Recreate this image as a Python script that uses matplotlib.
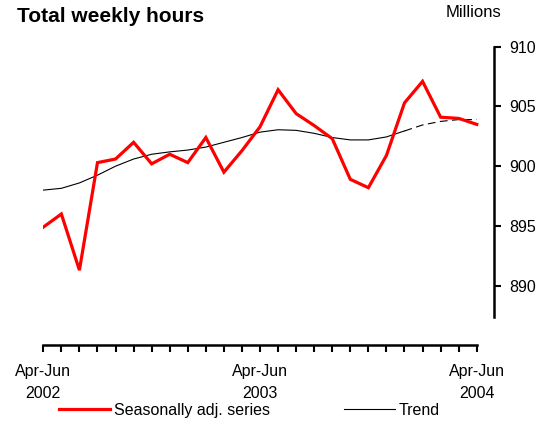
import matplotlib
matplotlib.use("Agg")
import matplotlib.pyplot as plt
from matplotlib.lines import Line2D

plt.rcParams['font.family'] = ['Liberation Sans', 'DejaVu Sans']

periods = list(range(25))
tick_labels = {0: "Apr-Jun\n2002", 12: "Apr-Jun\n2003", 24: "Apr-Jun\n2004"}
seasonal = [894.9, 896.0, 891.3, 900.3, 900.6, 902.0, 900.2, 901.0, 900.3, 902.4,
            899.5, 901.3, 903.3, 906.4, 904.4, 903.4, 902.3, 898.9, 898.2, 900.9,
            905.3, 907.1, 904.1, 904.0, 903.5]
trend = [898.0, 898.15, 898.6, 899.25, 900.0, 900.6, 901.0, 901.2, 901.35, 901.6,
         902.0, 902.4, 902.85, 903.05, 903.0, 902.75, 902.4, 902.2, 902.2, 902.45,
         902.95, 903.45, 903.75, 903.9, 903.9]
dash_start = 20

W, H = 548, 423
fig = plt.figure(figsize=(W / 100, H / 100), dpi=100)
x_left, x_right = 43.3, 494.3
y_top, y_bot = 46.7, 345
ax = fig.add_axes([x_left / W, (H - y_bot) / H, (x_right - x_left) / W, (y_bot - y_top) / H])

px_per_idx = 18.06
ax.set_xlim(0, (x_right - x_left) / px_per_idx)
ax.set_ylim(910 - (y_bot - y_top) / 11.95, 910)

ax.plot(periods, seasonal, color='#ff0000', lw=2.3, solid_joinstyle='miter', zorder=3)
ax.plot(periods[:dash_start + 1], trend[:dash_start + 1], color='black', lw=0.8, zorder=2)
ax.plot(periods[dash_start:], trend[dash_start:], color='black', lw=0.8,
        dashes=(7, 4), zorder=2)

for s in ['top', 'left']:
    ax.spines[s].set_visible(False)
ax.spines['right'].set_linewidth(1.8)
ax.spines['right'].set_bounds(887.4, 910)
ax.spines['bottom'].set_linewidth(1.8)
ax.spines['bottom'].set_bounds(0, 24)

ax.yaxis.tick_right()
ax.set_yticks([890, 895, 900, 905, 910])
ax.tick_params(axis='y', direction='out', length=5, width=1.5, pad=6, labelsize=11.5)
ax.set_xticks(periods)
ax.set_xticklabels([tick_labels.get(p, "") for p in periods], linespacing=1.55)
ax.tick_params(axis='x', direction='out', length=5, width=1.5, pad=9, labelsize=11.5)

fig.text(17 / W, 1 - 17 / H, "Total weekly hours", fontsize=15, fontweight='bold',
         ha='left', va='center')
fig.text(446 / W, 1 - 12.5 / H, "Millions", fontsize=12, ha='left', va='center')

handles = [Line2D([], [], color='#ff0000', lw=2.3), Line2D([], [], color='black', lw=0.8)]
fig.legend(handles, ["Seasonally adj. series", "Trend"], ncol=2, frameon=False,
           loc='center left', bbox_to_anchor=(59 / W, 1 - 410 / H), borderpad=0,
           borderaxespad=0, handlelength=3.2, handletextpad=0.25, columnspacing=4.6,
           fontsize=11.5)

fig.savefig("out.png", dpi=100)
